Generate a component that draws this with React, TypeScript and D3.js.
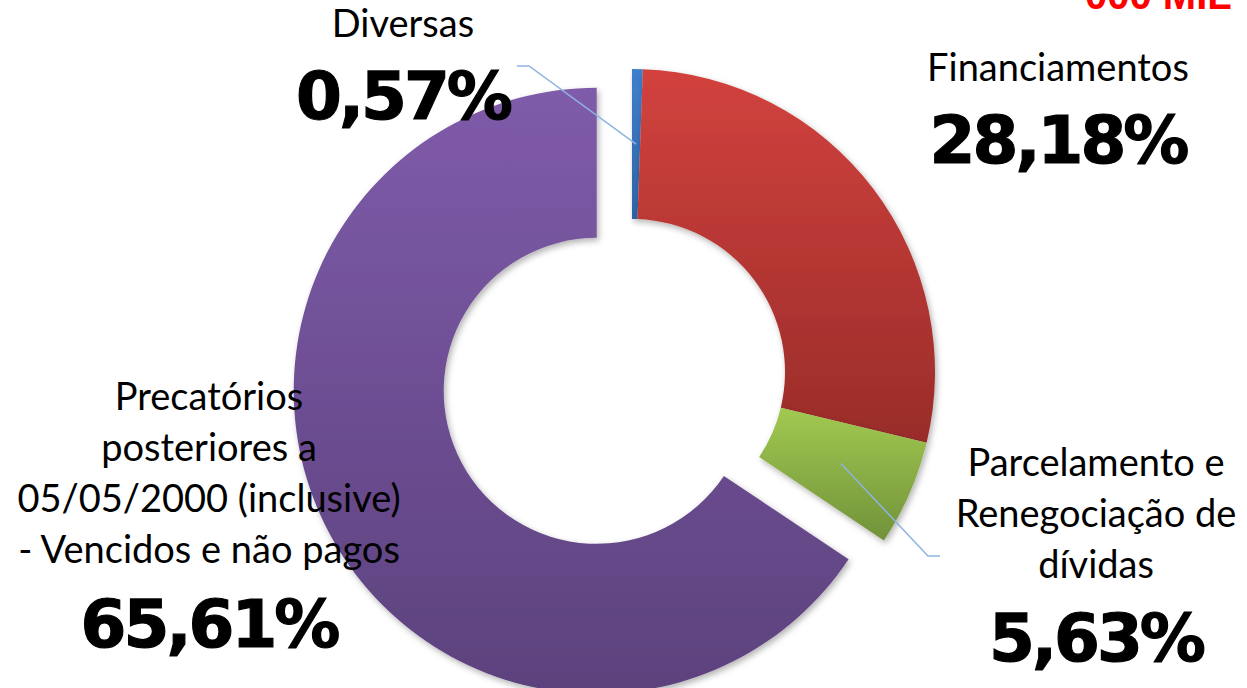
import React from "react";
import * as d3 from "d3";

const width = 1247;
const height = 688;

// dados do gráfico
const categories = [
  "Diversas",
  "Financiamentos",
  "Parcelamento e Renegociação de dívidas",
  "Precatórios posteriores a 05/05/2000 (inclusive) - Vencidos e não pagos",
];
const values = [0.57, 28.18, 5.63, 65.61];
const valueLabels = ["0,57%", "28,18%", "5,63%", "65,61%"];
const labelLines = [
  ["Diversas"],
  ["Financiamentos"],
  ["Parcelamento e", "Renegociação de", "dívidas"],
  ["Precatórios", "posteriores a", "05/05/2000 (inclusive)", "- Vencidos e não pagos"],
];
const explode = [0, 0, 0, 40];
const colors = [
  ["#3F7FCC", "#2E63A6"],
  ["#D2423E", "#992C29"],
  ["#A2C951", "#71923A"],
  ["#7F5BAA", "#5C427D"],
];

// posições dos rótulos (layout)
const labelPos = [
  { x: 403, y: 37, py: 119 },
  { x: 1058, y: 81, py: 163 },
  { x: 1096, y: 476, py: 661 },
  { x: 209, y: 410, py: 647 },
];
const leaderEnd = [
  [
    [529, 66],
    [517, 66],
  ],
  null,
  [
    [928, 556],
    [940, 556],
  ],
  null,
];

const cx = 632;
const cy = 372;
const outerR = 303;
const innerR = 153;

const labelFont = "Lato, 'Open Sans', sans-serif";
const pctFont = "'DejaVu Sans', sans-serif";

export default function App() {
  const pie = d3
    .pie<number>()
    .sort(null)
    .value((d) => d);
  const arcs = pie(values);
  const arc = d3
    .arc<d3.PieArcDatum<number>>()
    .innerRadius(innerR)
    .outerRadius(outerR);

  return (
    <svg
      width={width}
      height={height}
      style={{ position: "absolute", left: 0, top: 0, background: "#fff" }}
    >
      <defs>
        {colors.map((c, i) => (
          <linearGradient key={i} id={"g" + i} x1="0" y1="0" x2="0" y2="1">
            <stop offset="0%" stopColor={c[0]} />
            <stop offset="100%" stopColor={c[1]} />
          </linearGradient>
        ))}
        <filter id="shadow" x="-10%" y="-10%" width="120%" height="120%">
          <feDropShadow dx="2" dy="3" stdDeviation="3" floodColor="#000" floodOpacity="0.3" />
        </filter>
      </defs>

      <text
        x={1085}
        y={9}
        textAnchor="start"
        fill="#FF0000"
        fontFamily="'Liberation Sans', sans-serif"
        fontWeight="bold"
        fontSize={40}
      >
        {"000 MIL"}
      </text>

      <g transform={`translate(${cx},${cy})`}>
        {arcs.map((a, i) => {
          const mid = (a.startAngle + a.endAngle) / 2;
          const dx = Math.sin(mid) * explode[i];
          const dy = -Math.cos(mid) * explode[i];
          return (
            <path
              key={categories[i]}
              d={arc(a) || ""}
              transform={`translate(${dx},${dy})`}
              fill={`url(#g${i})`}
              filter="url(#shadow)"
            />
          );
        })}
        {arcs.map((a, i) => {
          const pts = leaderEnd[i];
          if (!pts) return null;
          const [x0, y0] = arc.centroid(a);
          const d = d3.line()([
            [x0, y0],
            [pts[0][0] - cx, pts[0][1] - cy],
            [pts[1][0] - cx, pts[1][1] - cy],
          ]);
          return (
            <path key={"l" + i} d={d || ""} fill="none" stroke="#8DB4E2" strokeWidth={1.5} />
          );
        })}
      </g>

      {labelLines.map((lines, i) => (
        <g key={"t" + i}>
          {lines.map((ln, j) => (
            <text
              key={j}
              x={labelPos[i].x}
              y={labelPos[i].y + j * 51}
              textAnchor="middle"
              fontFamily={labelFont}
              fontSize={38}
              fill="#000"
            >
              {ln}
            </text>
          ))}
          <text
            x={labelPos[i].x}
            y={labelPos[i].py}
            textAnchor="middle"
            fontFamily={pctFont}
            fontWeight="bold"
            fontSize={66}
            letterSpacing={-3}
            stroke="#000"
            strokeWidth={1.2}
            fill="#000"
          >
            {valueLabels[i]}
          </text>
        </g>
      ))}
    </svg>
  );
}
